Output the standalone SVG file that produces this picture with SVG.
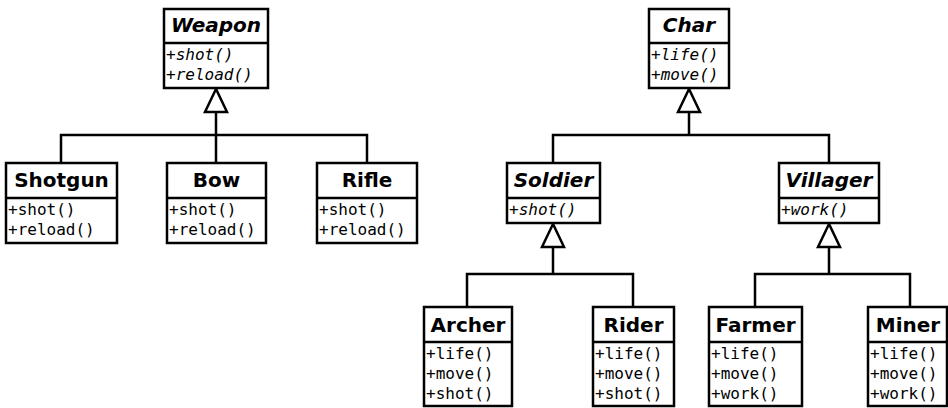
<svg xmlns="http://www.w3.org/2000/svg" width="948" height="408" viewBox="0 0 948 408">
<style>
.box{fill:#fff;stroke:#000;stroke-width:2.5}
.sep{stroke:#000;stroke-width:2.5}
.t{font-family:"DejaVu Sans",sans-serif;font-weight:bold;font-size:20px;text-anchor:middle;fill:#000}
.ti{font-style:italic}
.m{font-family:"DejaVu Sans Mono",monospace;font-size:16px;fill:#000}
.mi{font-style:italic}
.c{fill:none;stroke:#000;stroke-width:2.5}
.tri{fill:#fff;stroke:#000;stroke-width:2.5}
</style>
<rect width="948" height="408" fill="#fff"/>
<g id="connectors">
<path class="c" d="M216,112 V135 M61,163 V135 H367 V163 M216,135 V163"/>
<polygon class="tri" points="216,89 205,112 227,112"/>
<path class="c" d="M689,112 V135 M553,163 V135 H829 V163"/>
<polygon class="tri" points="689,89 678,112 700,112"/>
<path class="c" d="M553,247 V274 M467,307 V274 H633 V307"/>
<polygon class="tri" points="553,224 542,247 564,247"/>
<path class="c" d="M829,247 V274 M755,307 V274 H910 V307"/>
<polygon class="tri" points="829,224 818,247 840,247"/>
</g>
<g id="Weapon">
<rect class="box" x="164" y="9" width="104" height="79"/>
<line class="sep" x1="164" y1="43" x2="268" y2="43"/>
<text class="t ti" x="216" y="32">Weapon</text>
<text class="m mi" x="166" y="60">+shot()</text>
<text class="m mi" x="166" y="80">+reload()</text>
</g>
<g id="Shotgun">
<rect class="box" x="6" y="163" width="111" height="80"/>
<line class="sep" x1="6" y1="198" x2="117" y2="198"/>
<text class="t" x="61.5" y="187">Shotgun</text>
<text class="m" x="8" y="215">+shot()</text>
<text class="m" x="8" y="235">+reload()</text>
</g>
<g id="Bow">
<rect class="box" x="167" y="163" width="99" height="80"/>
<line class="sep" x1="167" y1="198" x2="266" y2="198"/>
<text class="t" x="216.5" y="187">Bow</text>
<text class="m" x="169" y="215">+shot()</text>
<text class="m" x="169" y="235">+reload()</text>
</g>
<g id="Rifle">
<rect class="box" x="317" y="163" width="100" height="80"/>
<line class="sep" x1="317" y1="198" x2="417" y2="198"/>
<text class="t" x="367" y="187">Rifle</text>
<text class="m" x="319" y="215">+shot()</text>
<text class="m" x="319" y="235">+reload()</text>
</g>
<g id="Char">
<rect class="box" x="649" y="9" width="80" height="79"/>
<line class="sep" x1="649" y1="43" x2="729" y2="43"/>
<text class="t ti" x="689" y="32">Char</text>
<text class="m mi" x="651" y="60">+life()</text>
<text class="m mi" x="651" y="80">+move()</text>
</g>
<g id="Soldier">
<rect class="box" x="507" y="163" width="93" height="60"/>
<line class="sep" x1="507" y1="198" x2="600" y2="198"/>
<text class="t ti" x="553.5" y="187">Soldier</text>
<text class="m mi" x="509" y="215">+shot()</text>
</g>
<g id="Villager">
<rect class="box" x="779" y="163" width="100" height="60"/>
<line class="sep" x1="779" y1="198" x2="879" y2="198"/>
<text class="t ti" x="829" y="187">Villager</text>
<text class="m mi" x="781" y="215">+work()</text>
</g>
<g id="Archer">
<rect class="box" x="424" y="307" width="88" height="99"/>
<line class="sep" x1="424" y1="342" x2="512" y2="342"/>
<text class="t" x="468" y="332">Archer</text>
<text class="m" x="426" y="359">+life()</text>
<text class="m" x="426" y="379">+move()</text>
<text class="m" x="426" y="399">+shot()</text>
</g>
<g id="Rider">
<rect class="box" x="593" y="307" width="81" height="99"/>
<line class="sep" x1="593" y1="342" x2="674" y2="342"/>
<text class="t" x="633.5" y="332">Rider</text>
<text class="m" x="595" y="359">+life()</text>
<text class="m" x="595" y="379">+move()</text>
<text class="m" x="595" y="399">+shot()</text>
</g>
<g id="Farmer">
<rect class="box" x="709" y="307" width="93" height="99"/>
<line class="sep" x1="709" y1="342" x2="802" y2="342"/>
<text class="t" x="755.5" y="332">Farmer</text>
<text class="m" x="711" y="359">+life()</text>
<text class="m" x="711" y="379">+move()</text>
<text class="m" x="711" y="399">+work()</text>
</g>
<g id="Miner">
<rect class="box" x="868" y="307" width="79" height="99"/>
<line class="sep" x1="868" y1="342" x2="947" y2="342"/>
<text class="t" x="908" y="332">Miner</text>
<text class="m" x="870" y="359">+life()</text>
<text class="m" x="870" y="379">+move()</text>
<text class="m" x="870" y="399">+work()</text>
</g>
</svg>
